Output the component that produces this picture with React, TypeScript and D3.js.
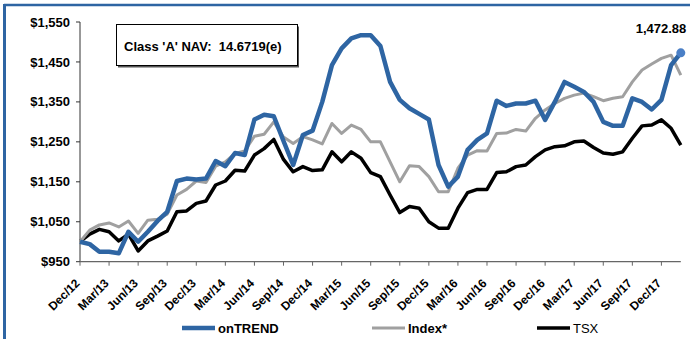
import React from "react";
import * as d3 from "d3";

const months: string[] = (() => {
  const names = ["Jan", "Feb", "Mar", "Apr", "May", "Jun", "Jul", "Aug", "Sep", "Oct", "Nov", "Dec"];
  const out: string[] = [];
  for (let i = 0; i < 63; i++) {
    const m = (11 + i) % 12;
    const y = 12 + Math.floor((11 + i) / 12);
    out.push(`${names[m]}/${y}`);
  }
  return out;
})();

const tickLabels = [
  "Dec/12", "Mar/13", "Jun/13", "Sep/13", "Dec/13", "Mar/14", "Jun/14", "Sep/14", "Dec/14",
  "Mar/15", "Jun/15", "Sep/15", "Dec/15", "Mar/16", "Jun/16", "Sep/16", "Dec/16", "Mar/17",
  "Jun/17", "Sep/17", "Dec/17",
];

const yTicks = [950, 1050, 1150, 1250, 1350, 1450, 1550];

const onTrend = [
  1000, 994, 975, 975, 971, 1025, 1000, 1025, 1052, 1075, 1152, 1158, 1156, 1158, 1202, 1189,
  1222, 1217, 1306, 1318, 1314, 1252, 1192, 1267, 1278, 1350, 1442, 1484, 1509, 1517, 1517,
  1490, 1400, 1355, 1334, 1320, 1306, 1192, 1138, 1163, 1230, 1255, 1271, 1353, 1340, 1346,
  1346, 1353, 1305, 1350, 1400, 1388, 1375, 1350, 1300, 1290, 1290, 1359, 1350, 1331, 1355,
  1442, 1472.88,
];

const indexSeries = [
  1000, 1029, 1042, 1047, 1037, 1052, 1021, 1054, 1056, 1069, 1117, 1131, 1152, 1148, 1189,
  1200, 1221, 1227, 1264, 1269, 1300, 1262, 1246, 1263, 1255, 1245, 1296, 1271, 1292, 1281,
  1250, 1250, 1200, 1150, 1190, 1188, 1163, 1125, 1125, 1184, 1217, 1228, 1227, 1271, 1272,
  1281, 1277, 1309, 1330, 1346, 1359, 1367, 1372, 1363, 1353, 1359, 1363, 1400, 1430, 1445,
  1459, 1467, 1417,
];

const tsx = [
  1000, 1019, 1031, 1025, 1002, 1019, 977, 1002, 1014, 1027, 1075, 1077, 1096, 1102, 1142,
  1152, 1179, 1177, 1217, 1233, 1256, 1206, 1175, 1188, 1178, 1180, 1225, 1200, 1225, 1209,
  1173, 1163, 1117, 1073, 1088, 1084, 1050, 1034, 1034, 1084, 1123, 1131, 1131, 1173, 1175,
  1188, 1192, 1213, 1230, 1238, 1240, 1250, 1252, 1236, 1222, 1219, 1225, 1259, 1290, 1292,
  1305, 1284, 1242,
];

const navText = "Class 'A' NAV:  14.6719(e)";
const lastLabel = "1,472.88";

const FONT = "'Liberation Sans', Arial, sans-serif";
const BLUE = "#2E65A3";
const GRAY = "#A0A0A0";

export default function App() {
  const W = 690;
  const H = 339;
  const x = d3.scaleLinear().domain([0, months.length - 1]).range([80, 680.8]);
  const y = d3.scaleLinear().domain([950, 1550]).range([261.7, 22]);
  const line = d3
    .line<number>()
    .x((_, i) => x(i))
    .y((d) => y(d));

  const series = [
    { name: "onTREND", data: onTrend, color: BLUE, width: 4.5, bold: true },
    { name: "Index*", data: indexSeries, color: GRAY, width: 3, bold: true },
    { name: "TSX", data: tsx, color: "#000", width: 3.5, bold: false },
  ];
  const legendX = [182, 372, 537];
  const lastI = onTrend.length - 1;

  return (
    <svg
      width={W}
      height={H}
      style={{ position: "fixed", left: 0, top: 0, background: "#fff" }}
      fontFamily={FONT}
    >
      <rect x={0} y={0} width={W} height={H} fill="#fff" />
      {/* frame */}
      <line x1={4} x2={W} y1={5} y2={5} stroke={BLUE} strokeWidth={2.5} />
      <line x1={4.5} x2={4.5} y1={4} y2={H} stroke={BLUE} strokeWidth={3} />

      {/* y axis */}
      <line x1={80} x2={80} y1={y(1550)} y2={y(950)} stroke="#333" strokeWidth={1} />
      {yTicks.map((t) => (
        <g key={t}>
          <line x1={76} x2={80} y1={y(t)} y2={y(t)} stroke="#333" />
          <text
            x={70}
            y={y(t)}
            dy="0.35em"
            textAnchor="end"
            fontSize={13}
            fontWeight="bold"
            fill="#000"
          >
            {d3.format("$,")(t)}
          </text>
        </g>
      ))}

      {/* x axis */}
      <line x1={80} x2={680.8} y1={y(950)} y2={y(950)} stroke="#666" strokeWidth={1.2} />
      {months.map((m, i) => (
        <line key={m} x1={x(i)} x2={x(i)} y1={y(950)} y2={y(950) + (tickLabels.includes(m) ? 4 : 0)} stroke="#666" />
      ))}
      {months.map((m, i) =>
        tickLabels.includes(m) ? (
          <text
            key={"l" + m}
            transform={`translate(${x(i) + 0.5},${284}) rotate(-45)`}
            textAnchor="end"
            fontSize={12}
            fontWeight="bold"
            fill="#000"
          >
            {m}
          </text>
        ) : null
      )}

      {/* series */}
      {series
        .slice()
        .reverse()
        .map((s) => (
          <path
            key={s.name}
            d={line(s.data) || ""}
            fill="none"
            stroke={s.color}
            strokeWidth={s.width}
            strokeLinejoin="round"
          />
        ))}
      <circle cx={x(lastI)} cy={y(onTrend[lastI])} r={4.5} fill="#4A7FC6" />
      <text x={661} y={33} textAnchor="middle" fontSize={13} fontWeight="bold" fill="#000">
        {lastLabel}
      </text>

      {/* NAV box */}
      <rect x={118} y={26.5} width={181} height={41} fill="#555" />
      <rect x={116.5} y={24.5} width={181} height={41} fill="#fff" stroke="#000" strokeWidth={1} />
      <text x={124} y={51} fontSize={13} fontWeight="bold" fill="#000" style={{ whiteSpace: "pre" }}>
        {navText}
      </text>

      {/* legend */}
      {series.map((s, k) => (
        <g key={"lg" + s.name}>
          <line
            x1={legendX[k]}
            x2={legendX[k] + 33}
            y1={328}
            y2={328}
            stroke={s.color}
            strokeWidth={s.width}
          />
          <text
            x={legendX[k] + 36}
            y={328}
            dy="0.35em"
            fontSize={13}
            fontWeight={s.bold ? "bold" : "normal"}
            fill="#000"
          >
            {s.name}
          </text>
        </g>
      ))}
    </svg>
  );
}
